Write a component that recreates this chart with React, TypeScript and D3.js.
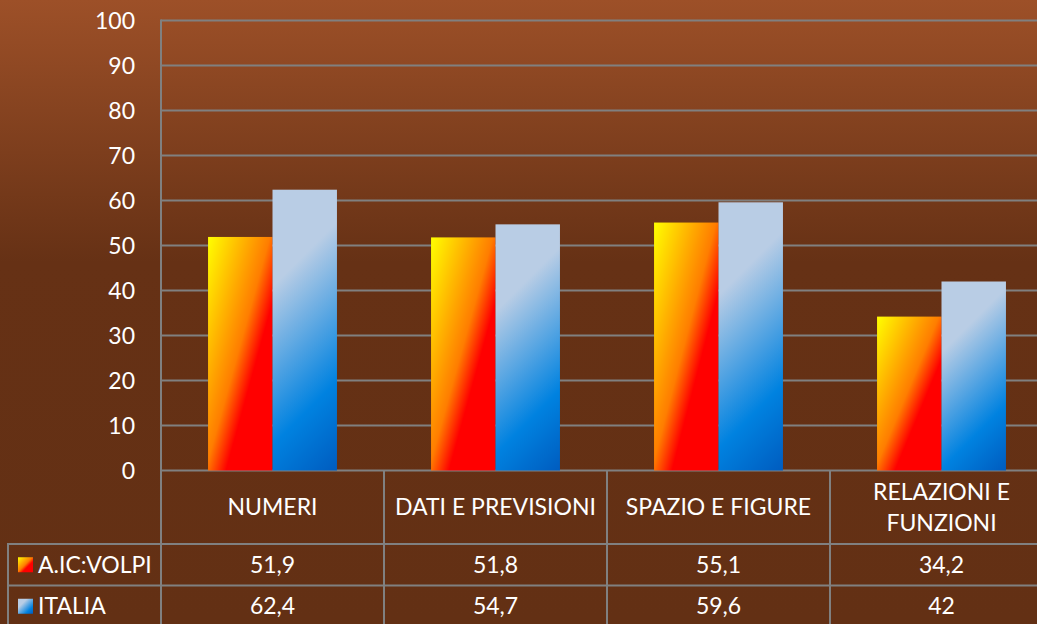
import * as d3 from 'd3';

const categories = [['NUMERI'], ['DATI E PREVISIONI'], ['SPAZIO E FIGURE'], ['RELAZIONI E', 'FUNZIONI']];
const seriesNames = ['A.IC:VOLPI', 'ITALIA'];
const volpi = [51.9, 51.8, 55.1, 34.2];
const italia = [62.4, 54.7, 59.6, 42];
const valueLabels = [
  ['51,9', '51,8', '55,1', '34,2'],
  ['62,4', '54,7', '59,6', '42'],
];
const yTicks = [0, 10, 20, 30, 40, 50, 60, 70, 80, 90, 100];

const W = 1037;
const H = 624;
const plotLeft = 161;
const plotRight = 1053;
const plotTop = 20.5;
const plotBottom = 470.5;
const tableLeft = 8;
const rowLines = [544, 585.5, 627];
const grid = '#808080';
const font = 'Lato, "Open Sans", sans-serif';
const fs = 23;

export default function App() {
  const x = d3.scaleBand<number>().domain(d3.range(categories.length)).range([plotLeft, plotRight]);
  const inner = d3.scaleBand<number>().domain([0, 1]).range([0, x.bandwidth()]).paddingOuter(0.73);
  const y = d3.scaleLinear().domain([0, 100]).range([plotBottom, plotTop]);
  const series = [volpi, italia];

  return (
    <svg width={W} height={H} style={{ position: 'absolute', left: 0, top: 0 }} fontFamily={font}>
      <defs>
        <linearGradient id="bg" x1="0" y1="0" x2="0" y2="1" gradientUnits="objectBoundingBox">
          <stop offset="0" stopColor="#9d5028" />
          <stop offset="0.42" stopColor="#663115" />
          <stop offset="1" stopColor="#633014" />
        </linearGradient>
        <linearGradient id="fire" x1="0" y1="0" x2="1" y2="1">
          <stop offset="0" stopColor="#ffff00" />
          <stop offset="0.48" stopColor="#ff7d00" />
          <stop offset="0.64" stopColor="#ff0000" />
          <stop offset="1" stopColor="#ff0000" />
        </linearGradient>
        <linearGradient id="sky" x1="0" y1="0" x2="1" y2="1">
          <stop offset="0" stopColor="#b9cde5" />
          <stop offset="0.3" stopColor="#b9cde5" />
          <stop offset="0.75" stopColor="#0082e0" />
          <stop offset="1" stopColor="#005cbf" />
        </linearGradient>
        {italia.map((v, i) => {
          const bx = x(i)! + inner(1)!;
          const by = y(v);
          const bw = inner.bandwidth();
          const bh = y(0) - y(v);
          const d = (bw + bh) / 2;
          return (
            <linearGradient key={i} id={`sky${i}`} gradientUnits="userSpaceOnUse" x1={bx} y1={by} x2={bx + d} y2={by + d}>
              <stop offset="0" stopColor="#b9cde5" />
              <stop offset="0.28" stopColor="#b9cde5" />
              <stop offset="0.74" stopColor="#0082e0" />
              <stop offset="1" stopColor="#005cbf" />
            </linearGradient>
          );
        })}
      </defs>
      <rect x={0} y={0} width={W} height={H} fill="url(#bg)" />

      {/* grid */}
      {yTicks.map(t => (
        <line key={t} x1={plotLeft} x2={plotRight} y1={y(t)} y2={y(t)} stroke={grid} strokeWidth={2} />
      ))}
      {yTicks.map(t => (
        <text key={t} x={135} y={y(t)} dy="0.35em" textAnchor="end" fill="#fff" fontSize={fs}>{t}</text>
      ))}

      {/* bars */}
      {series.map((vals, s) =>
        vals.map((v, i) => (
          <rect
            key={`${s}-${i}`}
            x={x(i)! + inner(s)!}
            y={y(v)}
            width={inner.bandwidth()}
            height={y(0) - y(v)}
            fill={s === 0 ? 'url(#fire)' : `url(#sky${i})`}
          />
        ))
      )}

      {/* data table */}
      <line x1={plotLeft} x2={plotLeft} y1={plotTop - 1} y2={H} stroke={grid} strokeWidth={2} />
      {categories.map((_, i) => (
        <line key={i} x1={x(i)!} x2={x(i)!} y1={plotBottom} y2={H} stroke={grid} strokeWidth={2} />
      ))}
      <line x1={tableLeft} x2={tableLeft} y1={rowLines[0]} y2={H} stroke={grid} strokeWidth={2} />
      {rowLines.map(r => (
        <line key={r} x1={tableLeft - 1} x2={plotRight} y1={r} y2={r} stroke={grid} strokeWidth={2} />
      ))}

      {categories.map((lines, i) => {
        const cx = x(i)! + x.bandwidth() / 2;
        const mid = (plotBottom + rowLines[0]) / 2;
        return lines.map((ln, j) => (
          <text key={`${i}-${j}`} x={cx} y={mid + (j - (lines.length - 1) / 2) * 31} dy="0.35em" textAnchor="middle" fill="#fff" fontSize={fs}>
            {ln}
          </text>
        ));
      })}

      {seriesNames.map((name, s) => {
        const top = rowLines[s];
        const bottom = rowLines[s + 1];
        const cy = (top + bottom) / 2;
        return (
          <g key={name}>
            <rect x={18} y={cy - 7.5} width={15} height={15} fill={s === 0 ? 'url(#fire)' : 'url(#sky)'} />
            <text x={38} y={cy} dy="0.35em" fill="#fff" fontSize={fs}>{name}</text>
            {valueLabels[s].map((lbl, i) => (
              <text key={i} x={x(i)! + x.bandwidth() / 2} y={cy} dy="0.35em" textAnchor="middle" fill="#fff" fontSize={fs}>
                {lbl}
              </text>
            ))}
          </g>
        );
      })}
    </svg>
  );
}
